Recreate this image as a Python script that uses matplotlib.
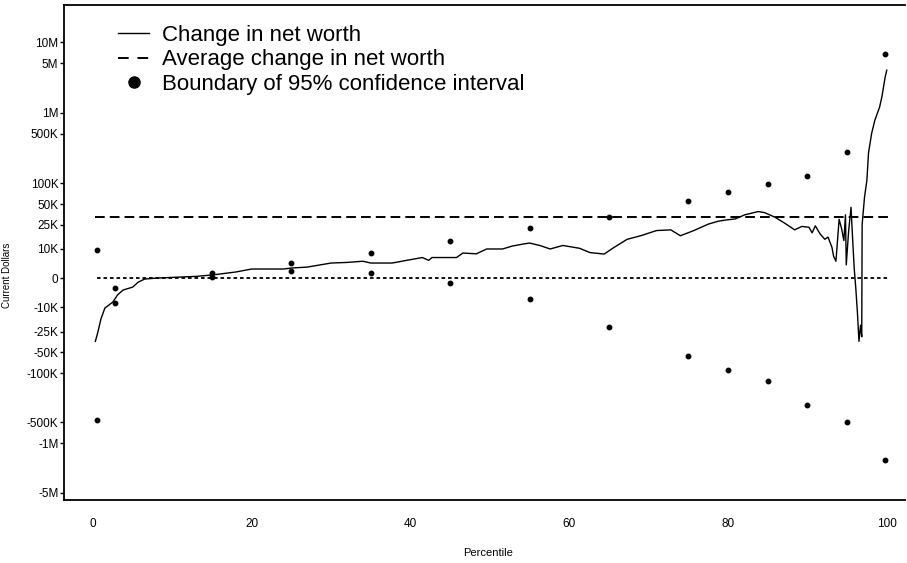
import matplotlib
matplotlib.use('Agg')
import matplotlib.pyplot as plt
from matplotlib.lines import Line2D
from matplotlib.ticker import NullLocator

# ---------------- data ----------------
percentile = [0.3, 0.6, 1.0, 1.5, 2.5, 3.1, 3.8, 5.0, 5.7, 6.5, 8.0, 11.0, 13.0,
              15.0, 16.0, 18.0, 20.0, 24.0, 25.0, 27.0, 30.0, 32.0, 34.0, 35.0,
              37.7, 39.5, 41.5, 42.3, 42.7, 45.8, 46.6, 48.3, 49.6, 51.6, 52.8,
              54.2, 55.0, 56.3, 57.6, 59.2, 61.3, 62.6, 64.4, 65.6, 67.3, 69.0,
              71.0, 72.8, 74.0, 75.7, 77.5, 78.7, 79.6, 80.9, 82.1, 83.8, 84.6,
              85.9, 87.1, 88.4, 89.3, 90.2, 90.6, 91.0, 91.6, 92.2, 92.6, 93.1,
              93.3, 93.6, 94.0, 94.3, 94.6, 94.8, 94.9, 95.2, 95.5, 95.7, 95.9,
              96.1, 96.3, 96.5, 96.7, 96.85, 96.9, 97.2, 97.5, 97.7, 98.1, 98.5,
              99.1, 99.4, 99.8, 100.0]
change = [-35000, -26000, -16000, -10300, -7800, -5200, -3600, -2700, -1200, -300,
          0, 300, 500, 900, 1200, 1800, 2700, 2700, 3000, 3300, 4600, 4800, 5200,
          4600, 4600, 5500, 6500, 5500, 6500, 6500, 8200, 7900, 9900, 9900, 11200,
          12200, 12700, 11500, 9900, 11500, 10200, 8400, 7800, 10500, 14700, 16800,
          20300, 20800, 16800, 20300, 25400, 28000, 29200, 30400, 34900, 39000,
          37700, 32300, 26500, 20800, 23500, 22800, 18700, 24000, 18000, 14700,
          16000, 10600, 7000, 5200, 30000, 22000, 14000, 35000, 4000, 20000, 45000,
          15000, 3000, -3000, -12000, -35000, -20000, -30000, 25000, 63000, 110000,
          266000, 510000, 780000, 1200000, 1700000, 3200000, 4000000]

ci_percentile = [0.5, 2.8, 15, 25, 35, 45, 55, 65, 75, 80, 85, 90, 95, 99.8]
ci_upper = [9500, -3000, 1500, 4600, 8200, 13800, 22600, 32000, 55000, 74000,
            97000, 126000, 276000, 6800000]
ci_lower = [-470000, -8000, 300, 2100, 1500, -1500, -6700, -21600, -57000, -90000,
            -130000, -285000, -495000, -1700000]

average_change = 32000

ytick_values = [10e6, 5e6, 1e6, 5e5, 1e5, 5e4, 2.5e4, 1e4, 0,
                -1e4, -2.5e4, -5e4, -1e5, -5e5, -1e6, -5e6]
ytick_labels = ['10M', '5M', '1M', '500K', '100K', '50K', '25K', '10K', '0',
                '-10K', '-25K', '-50K', '-100K', '-500K', '-1M', '-5M']
xtick_values = [0, 20, 40, 60, 80, 100]
legend_labels = ['Change in net worth', 'Average change in net worth',
                 'Boundary of 95% confidence interval']

# ---------------- figure ----------------
plt.rcParams['font.family'] = ['Liberation Sans', 'DejaVu Sans']
W, H = 907, 563
fig = plt.figure(figsize=(W / 100, H / 100), dpi=100)
ax = fig.add_axes([64 / W, 63 / H, (905 - 64) / W, (558 - 63) / H])
ax.set_yscale('asinh', linear_width=9000)

ax.plot(percentile, change, color='black', lw=1.0)
ax.hlines(average_change, 0.3, 100.5, colors='black', linestyles=(0, (5, 2.6)), lw=1.4)
ax.hlines(0, 0.5, 100.2, colors='black', linestyles=(0, (2, 1.6)), lw=1.3)
ax.plot(ci_percentile, ci_upper, 'o', ms=3.2, color='black')
ax.plot(ci_percentile, ci_lower, 'o', ms=3.2, color='black')

ax.set_xlim(-3.65, 102.3)
ax.set_ylim(-6.34e6, 3.37e7)
ax.set_yticks(ytick_values)
ax.set_yticklabels(ytick_labels)
ax.yaxis.set_minor_locator(NullLocator())
ax.set_xticks(xtick_values)
ax.set_xticklabels([str(v) for v in xtick_values])

ax.tick_params(axis='y', length=3, width=1, pad=1, labelsize=8.5)
ax.tick_params(axis='x', length=0, pad=13, labelsize=8.5)
ax.spines['right'].set_visible(False)
for s in ['left', 'bottom', 'top']:
    ax.spines[s].set_linewidth(1.3)

ax.set_xlabel('Percentile', fontsize=8)
ax.xaxis.set_label_coords((488 - 64) / (905 - 64), -(548 - 500) / (558 - 63))
ax.set_ylabel('Current Dollars', fontsize=7)
ax.yaxis.set_label_coords(-(64 - 12) / (905 - 64), (500 - 275) / (558 - 63))

handles = [Line2D([], [], color='black', lw=1.0),
           Line2D([], [], color='black', lw=1.4, linestyle=(0, (5.5, 4.5))),
           Line2D([], [], color='black', lw=0, marker='o', ms=8)]
fig.legend(handles, legend_labels, loc='upper left',
           bbox_to_anchor=(118 / W, 1 - 25 / H), frameon=False, fontsize=16,
           handlelength=1.4, handletextpad=0.6, labelspacing=0.15,
           borderpad=0, borderaxespad=0)

fig.savefig('out.png', dpi=100)
